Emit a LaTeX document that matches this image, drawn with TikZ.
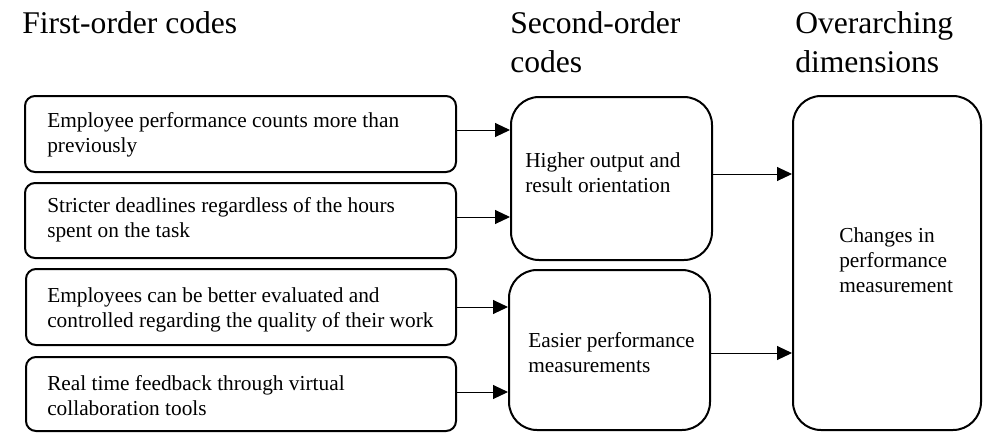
\documentclass[tikz,border=0pt]{standalone}
\usepackage{fontspec}
\setmainfont{Liberation Serif}
\usetikzlibrary{arrows.meta}
\begin{document}
\begin{tikzpicture}[x=0.75pt,y=-0.75pt,
  sbox/.style={draw, line width=1.5pt, rounded corners=7.5pt, inner sep=0pt},
  lbox/.style={draw, line width=1.5pt, rounded corners=21pt, inner sep=0pt},
  ftxt/.style={font=\fontsize{16}{18.75}\selectfont, align=left, inner sep=0pt, anchor=base west},
  ttl/.style={font=\fontsize{23.7}{29.25}\selectfont, align=left, inner sep=0pt, anchor=base west},
  arr/.style={line width=0.75pt, -{Triangle[length=11.25pt,width=10.5pt]}}]
\fill[white] (0,0) rectangle (985,433);
\useasboundingbox (0,0) rectangle (985,433);
% titles
\node[ttl] (h1) at (22,33) {First-order codes};
\node[ttl] (h2) at (510,72) {Second-order\\codes};
\node[ttl] (h3) at (795,72) {Overarching\\dimensions};
% first-order boxes
\node[sbox, minimum width=323.25pt, minimum height=57pt] (b1) at (240.5,134) {};
\node[sbox, minimum width=323.25pt, minimum height=56.25pt] (b2) at (240.5,220.5) {};
\node[sbox, minimum width=322.5pt, minimum height=57pt] (b3) at (241,307) {};
\node[sbox, minimum width=322.5pt, minimum height=55.5pt] (b4) at (241,394) {};
\node[ftxt] (t1) at (47,152) {Employee performance counts more than\\previously};
\node[ftxt] (t2) at (47,237) {Stricter deadlines regardless of the hours\\spent on the task};
\node[ftxt] (t3) at (47,327) {Employees can be better evaluated and\\controlled regarding the quality of their work};
\node[ftxt] (t4) at (47,415) {Real time feedback through virtual\\collaboration tools};
% second-order boxes
\node[lbox, minimum width=150.75pt, minimum height=122.25pt] (A) at (611.5,178.5) {};
\node[lbox, minimum width=150.75pt, minimum height=120pt] (B) at (609.5,350) {};
\node[ftxt] (tA) at (525,192) {Higher output and\\result orientation};
\node[ftxt] (tB) at (528,372) {Easier performance\\measurements};
% overarching
\node[lbox, minimum width=141pt, minimum height=250.5pt] (C) at (887,263) {};
\node[ftxt] (tC) at (839,292) {Changes in\\performance\\measurement};
% arrows
\draw[arr] (b1.east |- 0,130) -- (A.west |- 0,130);
\draw[arr] (b2.east |- 0,217) -- (A.west |- 0,217);
\draw[arr] (b3.east |- 0,307) -- (B.west |- 0,307);
\draw[arr] (b4.east |- 0,392) -- (B.west |- 0,392);
\draw[arr] (A.east |- 0,174) -- (C.west |- 0,174);
\draw[arr] (B.east |- 0,353) -- (C.west |- 0,353);
\end{tikzpicture}
\end{document}
